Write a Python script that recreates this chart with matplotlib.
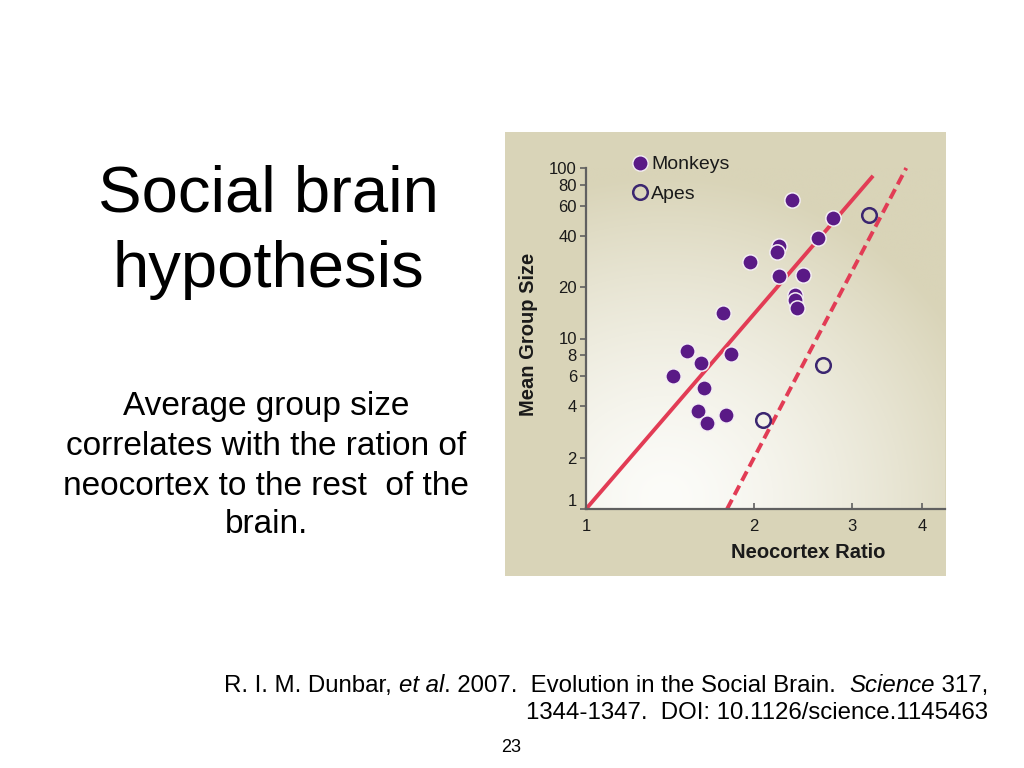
import numpy as np
import matplotlib
matplotlib.use("Agg")
import matplotlib.pyplot as plt
from matplotlib.lines import Line2D
from matplotlib import font_manager

# ---------------- data ----------------
monkey_ratio = [2.34, 2.77, 2.60, 2.22, 2.20, 1.97, 2.22, 2.45, 2.37, 2.37, 2.39,
                1.76, 1.52, 1.82, 1.61, 1.43, 1.63, 1.59, 1.78, 1.65]
monkey_group = [65, 51, 39, 35, 32, 28, 23.4, 23.7, 18.1, 16.8, 15.0,
                14.2, 8.4, 8.15, 7.15, 6.0, 5.15, 3.77, 3.55, 3.21]
ape_ratio = [3.22, 2.66, 2.08]
ape_group = [52.8, 6.96, 3.33]
monkey_fit_x = [1.0, 3.27]
monkey_fit_y = [1.0, 90.0]
ape_fit_x = [1.79, 3.75]
ape_fit_y = [1.0, 100.0]
x_ticks = [1, 2, 3, 4]
y_ticks = [1, 2, 4, 6, 8, 10, 20, 40, 60, 80, 100]
y_tick_labels = ["1", "2", "4", "6", "8", "10", "20", "40", "60", "80", "100"]

plt.rcParams['font.family'] = ['Liberation Sans', 'DejaVu Sans']

W, H = 1024, 768
fig = plt.figure(figsize=(W / 100, H / 100), dpi=100, facecolor='white')

def fx(x):
    return x / W

def fy(y):
    return 1 - y / H

PURPLE = '#5a1a86'
APE = '#3b2670'
RED = '#e23c55'
BEIGE = np.array([217, 212, 184]) / 255.0
AXCOL = '#606060'
TXT = '#1a1a1a'

# picture panel background
bg = fig.add_axes([fx(505), fy(576), fx(946) - fx(505), fy(132) - fy(576)])
bg.set_facecolor(BEIGE)
bg.set_xticks([]); bg.set_yticks([])
for s in bg.spines.values():
    s.set_visible(False)
bg.set_zorder(0)

ax_rect = [fx(586), fy(509), fx(945) - fx(586), fy(168) - fy(509)]

# gradient inside plot area
gax = fig.add_axes(ax_rect)
gax.set_zorder(1)
ny, nx = 200, 200
gx, gy = np.meshgrid(np.linspace(0, 1, nx), np.linspace(0, 1, ny))
d = np.sqrt((gx - 0.22) ** 2 + (gy - 0.03) ** 2)
t = np.clip(d / 0.95, 0, 1) ** 1.4
white = np.array([252, 252, 249]) / 255.0
img = white[None, None, :] * (1 - t[..., None]) + BEIGE[None, None, :] * t[..., None]
gax.imshow(img, origin='lower', extent=(0, 1, 0, 1), aspect='auto', interpolation='bilinear')
gax.set_axis_off()

# main axes
ax = fig.add_axes(ax_rect)
ax.set_zorder(2)
ax.set_facecolor('none')
ax.set_xscale('log')
ax.set_yscale('log')
ax.set_xlim(1, 4.4)
ax.set_ylim(1, 100)

ax.plot(monkey_fit_x, monkey_fit_y, color=RED, lw=2.8, solid_capstyle='butt', clip_on=False, zorder=2)
ax.plot(ape_fit_x, ape_fit_y, color=RED, lw=2.8, dashes=(2.7, 1.4), clip_on=False, zorder=2)

ax.plot(monkey_ratio, monkey_group, 'o', ms=11, mfc=PURPLE, mec='#f4eef4', mew=1.1, zorder=4, clip_on=False)
ax.plot(ape_ratio, ape_group, 'o', ms=10.5, mfc='none', mec=APE, mew=1.8, zorder=4, clip_on=False)

for side in ['top', 'right']:
    ax.spines[side].set_visible(False)
for side in ['left', 'bottom']:
    ax.spines[side].set_color(AXCOL)
    ax.spines[side].set_linewidth(1.6)

ax.set_xticks(x_ticks)
ax.set_xticklabels([str(v) for v in x_ticks])
ax.set_yticks(y_ticks)
ax.set_yticklabels(y_tick_labels)
ax.minorticks_off()
ax.tick_params(axis='x', direction='in', length=4, width=1.2, color=AXCOL, pad=7, labelsize=12, labelcolor=TXT)
ax.tick_params(axis='y', direction='out', length=4, width=1.2, color=AXCOL, pad=2.5, labelsize=12, labelcolor=TXT)
ylabs = ax.get_yticklabels()
ylabs[0].set_va('bottom')

# legend
handles = [Line2D([], [], ls='none', marker='o', ms=11, mfc=PURPLE, mec='#f4eef4', mew=1.0),
           Line2D([], [], ls='none', marker='o', ms=10.5, mfc='none', mec=APE, mew=1.8)]
ax.legend(handles, ['Monkeys', 'Apes'], loc='upper left', bbox_to_anchor=(fx(622), fy(146)),
          bbox_transform=fig.transFigure, frameon=False, fontsize=14, handlelength=0.9,
          handletextpad=0.1, labelspacing=0.6, borderpad=0, labelcolor=TXT)

fig.text(fx(808), fy(552), 'Neocortex Ratio', ha='center', va='center', fontsize=14.5,
         fontweight='bold', color=TXT)
fig.text(fx(528), fy(334), 'Mean Group Size', ha='center', va='center', rotation=90,
         fontsize=14.5, fontweight='bold', color=TXT)

# slide text
fig.text(fx(268), fy(212), 'Social brain', ha='center', va='baseline', fontsize=47, color='black')
fig.text(fx(268), fy(287), 'hypothesis', ha='center', va='baseline', fontsize=47, color='black')

body = ["Average group size", "correlates with the ration of", "neocortex to the rest  of the", "brain."]
body_base = [415, 455, 495, 533]
for line, yb in zip(body, body_base):
    fig.text(fx(266), fy(yb), line, ha='center', va='baseline', fontsize=24, color='black')

# citation with mixed italic (narrow font if available)
names = {f.name for f in font_manager.fontManager.ttflist}
if 'Liberation Sans Narrow' in names:
    cit_fam = ['Liberation Sans Narrow', 'DejaVu Sans']
else:
    cit_fam = ['Liberation Sans', 'DejaVu Sans']
renderer = fig.canvas.get_renderer()

line1 = [("R. I. M. Dunbar, ", 'normal'), ("et al", 'italic'),
         (". 2007.  Evolution in the Social Brain.  ", 'normal'),
         ("Science", 'italic'), (" 317,", 'normal')]
line2 = [("1344-1347.  DOI: 10.1126/science.1145463", 'normal')]

def make_pieces(pieces, base_px, size):
    texts = [fig.text(0, fy(base_px), s, ha='left', va='baseline', fontsize=size,
                      style=style, family=cit_fam, color='black') for s, style in pieces]
    return texts

def widths_of(texts):
    return [t.get_window_extent(renderer=renderer).width for t in texts]

def place_right(texts, right_px):
    ws = widths_of(texts)
    x = right_px - sum(ws)
    for t, w in zip(texts, ws):
        t.set_x(fx(x))
        x += w

base_size = 15
t1 = make_pieces(line1, 692, base_size)
w1 = sum(widths_of(t1))
size = base_size * 766.0 / w1
for t in t1:
    t.set_fontsize(size)
t2 = make_pieces(line2, 719, size)
place_right(t1, 988)
place_right(t2, 988)
fig.text(fx(511), fy(752), '23', ha='center', va='baseline', fontsize=13, family=cit_fam, color='black')

fig.savefig('out.png', dpi=100, facecolor='white')
